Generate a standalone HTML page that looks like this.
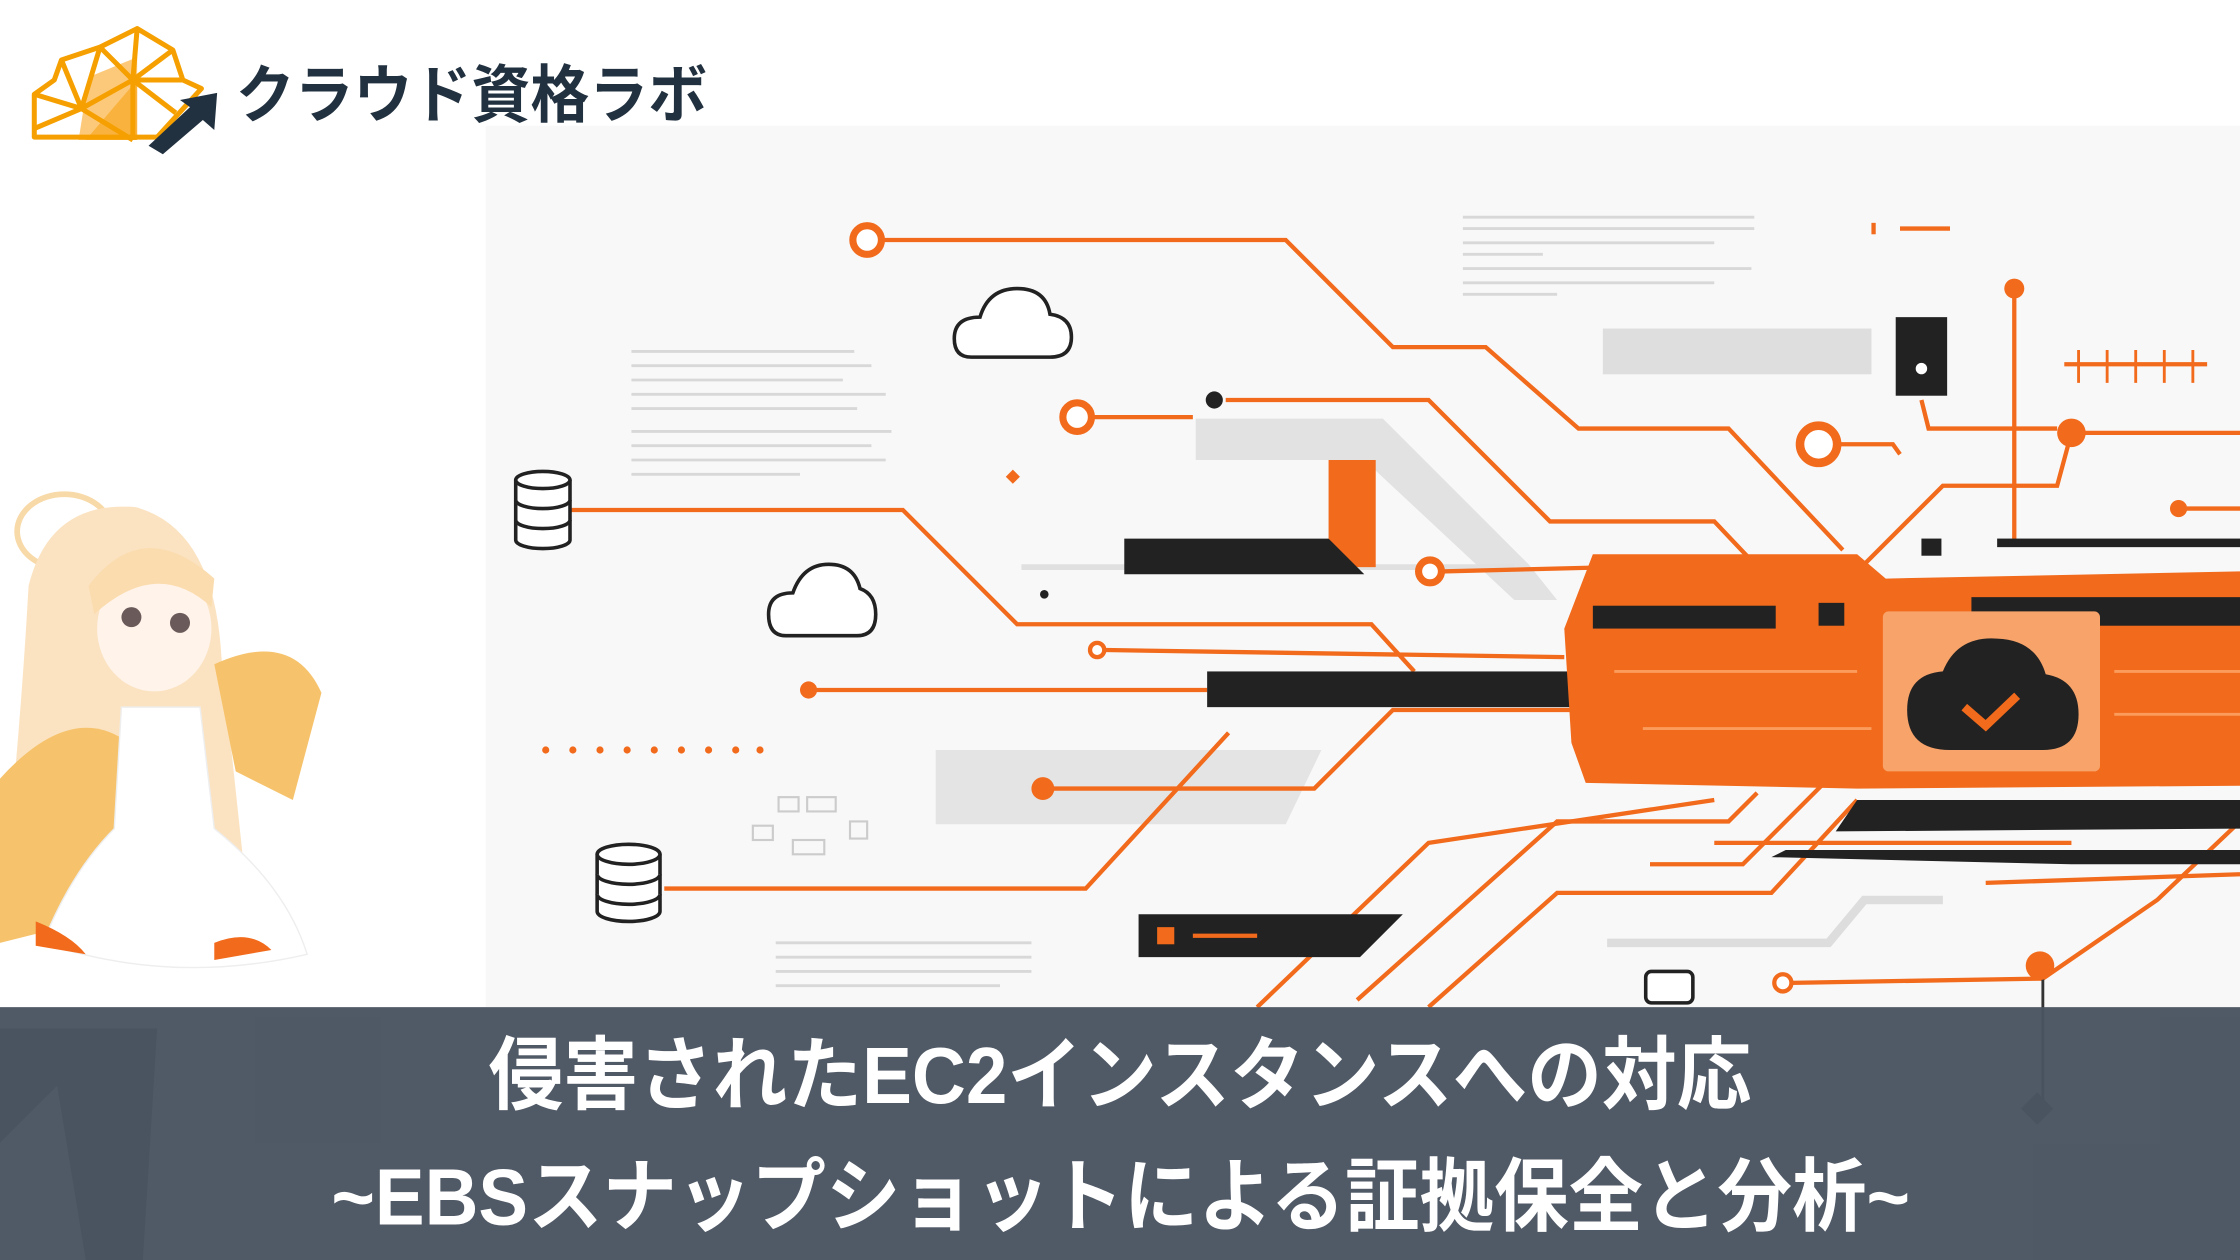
<!DOCTYPE html>
<html><head><meta charset="utf-8"><style>
html,body{margin:0;padding:0;background:#fff;}
svg{display:block;}
</style></head><body>
<svg width="2240" height="1260" viewBox="0 0 1568 882" xmlns="http://www.w3.org/2000/svg">
<rect width="1568" height="882" fill="#fff"/>
<rect x="340" y="88" width="1228" height="620" fill="#f8f8f8"/>
<g stroke="#d8d8d8" stroke-width="2">
<line x1="442" y1="246" x2="598" y2="246"/><line x1="442" y1="256" x2="610" y2="256"/><line x1="442" y1="266" x2="590" y2="266"/><line x1="442" y1="276" x2="620" y2="276"/><line x1="442" y1="286" x2="600" y2="286"/><line x1="442" y1="302" x2="624" y2="302"/><line x1="442" y1="312" x2="610" y2="312"/><line x1="442" y1="322" x2="620" y2="322"/><line x1="442" y1="332" x2="560" y2="332"/>
<line x1="1024" y1="152" x2="1228" y2="152"/><line x1="1024" y1="160" x2="1228" y2="160"/><line x1="1024" y1="170" x2="1200" y2="170"/><line x1="1024" y1="178" x2="1080" y2="178"/><line x1="1024" y1="188" x2="1226" y2="188"/><line x1="1024" y1="198" x2="1200" y2="198"/><line x1="1024" y1="206" x2="1090" y2="206"/>
<line x1="543" y1="660" x2="722" y2="660"/><line x1="543" y1="670" x2="722" y2="670"/><line x1="543" y1="680" x2="722" y2="680"/><line x1="543" y1="690" x2="700" y2="690"/>
</g>
<polygon points="837,293 968,293 1070,395 1090,420 1060,420 955,322 837,322" fill="#e2e2e2"/>
<rect x="1122" y="230" width="188" height="32" fill="#dedede"/>
<polygon points="655,525 925,525 900,577 655,577" fill="#e4e4e4"/>
<line x1="715" y1="397" x2="1060" y2="397" stroke="#e0e0e0" stroke-width="4"/>
<polyline points="1125,660 1280,660 1305,630 1360,630" fill="none" stroke="#ddd" stroke-width="6"/>
<g fill="none" stroke="#f26a1b" stroke-width="3">
<polyline points="615,168 900,168 975,243 1040,243 1105,300 1210,300 1290,385"/>
<line x1="762" y1="292" x2="835" y2="292"/>
<polyline points="858,280 1000,280 1085,365 1200,365 1290,460"/>
<polyline points="400,357 632,357 712,437 960,437 990,470"/>
<line x1="1009" y1="400" x2="1130" y2="397"/>
<line x1="774" y1="455" x2="1095" y2="460"/>
<line x1="570" y1="483" x2="845" y2="483"/>
<polyline points="736,552 920,552 975,497 1110,497"/>
<polyline points="465,622 760,622 860,513"/>
<polyline points="880,705 1000,590 1200,560"/>
<polyline points="950,700 1090,575 1210,575 1230,555"/>
<polyline points="1155,605 1220,605 1290,535"/>
<polyline points="1000,705 1090,625 1240,625 1300,560"/>
<polyline points="1254,688 1430,685 1510,630 1568,575"/>
<line x1="1410" y1="202" x2="1410" y2="380"/>
<polyline points="1285,311 1325,311 1330,318"/>
<polyline points="1300,400 1360,340 1440,340 1450,303 1568,303"/>
<line x1="1525" y1="356" x2="1568" y2="356"/>
<polyline points="1345,280 1350,300 1440,300"/>
<line x1="1445" y1="255" x2="1545" y2="255"/>
<line x1="1330" y1="160" x2="1365" y2="160"/>
<line x1="1390" y1="618" x2="1568" y2="612"/>
<line x1="1200" y1="590" x2="1450" y2="590"/>
<line x1="1430" y1="685" x2="1430" y2="775" stroke="#333" stroke-width="2"/>
</g>
<g stroke="#f26a1b" stroke-width="2">
<line x1="1455" y1="245" x2="1455" y2="268"/><line x1="1475" y1="245" x2="1475" y2="268"/><line x1="1495" y1="245" x2="1495" y2="268"/><line x1="1515" y1="245" x2="1515" y2="268"/><line x1="1535" y1="245" x2="1535" y2="268"/>
</g>
<g fill="#f26a1b"><circle cx="382" cy="525" r="2.5"/><circle cx="401" cy="525" r="2.5"/><circle cx="420" cy="525" r="2.5"/><circle cx="439" cy="525" r="2.5"/><circle cx="458" cy="525" r="2.5"/><circle cx="477" cy="525" r="2.5"/><circle cx="496" cy="525" r="2.5"/><circle cx="515" cy="525" r="2.5"/><circle cx="532" cy="525" r="2.5"/></g>
<g fill="#fff" stroke="#f26a1b" stroke-width="5">
<circle cx="607" cy="168" r="10"/><circle cx="754" cy="292" r="10"/><circle cx="1001" cy="400" r="8"/><circle cx="768" cy="455" r="5" stroke-width="3"/><circle cx="1273" cy="311" r="13" stroke-width="6"/><circle cx="1248" cy="688" r="6" stroke-width="3"/>
</g>
<g fill="#f26a1b"><circle cx="566" cy="483" r="6"/><circle cx="730" cy="552" r="8"/><circle cx="1410" cy="202" r="7"/><circle cx="1450" cy="303" r="10"/><circle cx="1525" cy="356" r="6"/><circle cx="1428" cy="676" r="10"/><rect x="706" y="330" width="7" height="7" transform="rotate(45 709 333)"/><rect x="1310" y="156" width="3" height="8"/></g>
<circle cx="850" cy="280" r="6" fill="#222"/>
<circle cx="731" cy="416" r="3" fill="#222"/>
<rect x="1418" y="768" width="16" height="16" fill="#3a3a3a" transform="rotate(45 1426 776)"/>
<rect x="930" y="322" width="33" height="75" fill="#f26a1b"/>
<polygon points="787,377 930,377 955,402 787,402" fill="#222"/>
<rect x="845" y="470" width="270" height="25" fill="#222"/>
<polygon points="797,640 982,640 952,670 797,670" fill="#222"/>
<rect x="810" y="649" width="12" height="12" fill="#f26a1b"/>
<line x1="835" y1="655" x2="880" y2="655" stroke="#f26a1b" stroke-width="3"/>
<rect x="1327" y="222" width="36" height="55" fill="#222"/>
<circle cx="1345" cy="258" r="4" fill="#fff"/>
<rect x="1345" y="377" width="14" height="12" fill="#222"/>
<rect x="1398" y="377" width="170" height="6" fill="#222"/>
<polygon points="1115,388 1300,388 1320,405 1568,400 1568,550 1300,552 1110,548 1100,520 1095,440" fill="#f26a1b"/>
<g stroke="#ffb27a" stroke-width="2" opacity="0.7"><line x1="1130" y1="470" x2="1300" y2="470"/><line x1="1150" y1="510" x2="1310" y2="510"/><line x1="1480" y1="470" x2="1568" y2="470"/><line x1="1480" y1="500" x2="1568" y2="500"/></g>
<rect x="1115" y="424" width="128" height="16" fill="#222"/>
<rect x="1273" y="422" width="18" height="16" fill="#222"/>
<rect x="1380" y="418" width="188" height="20" fill="#222"/>
<polygon points="1300,560 1568,560 1568,580 1285,582" fill="#222"/>
<polygon points="1250,595 1568,595 1568,605 1450,605 1240,600" fill="#222"/>
<rect x="1318" y="428" width="152" height="112" fill="#f7a36a" rx="4"/>
<path d="M1365,525 Q1335,525 1335,497 Q1335,472 1360,470 Q1370,445 1398,447 Q1425,448 1432,472 Q1455,476 1455,500 Q1455,525 1430,525 Z" fill="#222"/>
<polyline points="1375,495 1390,508 1412,487" fill="none" stroke="#f26a1b" stroke-width="6"/>
<g fill="#fff" stroke="#222" stroke-width="2.5">
<path d="M680,250 Q668,250 668,237 Q668,222 686,222 Q692,202 712,202 Q732,202 735,220 Q750,222 750,236 Q750,250 735,250 Z"/>
<path d="M550,445 Q538,445 538,430 Q538,415 555,415 Q562,395 580,395 Q598,395 602,412 Q613,416 613,430 Q613,445 600,445 Z"/>
</g>
<g fill="#fff" stroke="#222" stroke-width="2.5">
<path d="M361,336 v42 a19,6 0 0 0 38,0 v-42"/><ellipse cx="380" cy="336" rx="19" ry="6"/><path d="M361,350 a19,6 0 0 0 38,0 M361,364 a19,6 0 0 0 38,0"/>
<path d="M418,598 v40 a22,7 0 0 0 44,0 v-40"/><ellipse cx="440" cy="598" rx="22" ry="7"/><path d="M418,612 a22,7 0 0 0 44,0 M418,626 a22,7 0 0 0 44,0"/>
</g>
<g fill="none" stroke="#ccc" stroke-width="1.5"><rect x="545" y="558" width="14" height="10"/><rect x="565" y="558" width="20" height="10"/><rect x="527" y="578" width="14" height="10"/><rect x="555" y="588" width="22" height="10"/><rect x="595" y="575" width="12" height="12"/></g>
<rect x="1152" y="680" width="33" height="22" rx="4" fill="#fff" stroke="#222" stroke-width="2.5"/>
<!-- logo -->
<polygon points="62,54 96,40 96,98 55,98" fill="#fcc97a"/>
<polygon points="96,56 96,98 60,98" fill="#f9b23d"/>
<g stroke="#f5a000" stroke-width="3.5" fill="none" stroke-linejoin="round">
<polygon points="24,66 38,56 43,42 70,33 96,20 121,35 128,56 141,62 110,96 24,96"/>
<line x1="43" y1="42" x2="57" y2="76"/><line x1="70" y1="33" x2="57" y2="76"/><line x1="70" y1="33" x2="93" y2="56"/><line x1="96" y1="20" x2="93" y2="56"/><line x1="121" y1="35" x2="93" y2="56"/><line x1="128" y1="56" x2="93" y2="56"/><line x1="24" y1="66" x2="57" y2="76"/><line x1="57" y1="76" x2="93" y2="56"/><line x1="93" y1="56" x2="123" y2="79"/><line x1="93" y1="56" x2="93" y2="98"/><line x1="57" y1="76" x2="93" y2="98"/><line x1="24" y1="90" x2="57" y2="76"/>
</g>
<polygon points="104,102 133,75 126,70 152,65 150,91 142,84 114,108" fill="#223140"/>
<text x="165" y="82" font-family="Liberation Sans, Noto Sans CJK JP, sans-serif" font-size="44" font-weight="700" fill="#223140" textLength="330" lengthAdjust="spacingAndGlyphs">クラウド資格ラボ</text>
<!-- character -->
<ellipse cx="45" cy="372" rx="33" ry="26" fill="none" stroke="#f8d9a8" stroke-width="4"/>
<path d="M20,410 Q35,350 95,355 Q150,370 155,460 L170,600 L120,560 L40,560 L5,600 Q15,500 20,410Z" fill="#fbe3c2"/>
<ellipse cx="108" cy="440" rx="40" ry="44" fill="#fff3ea"/>
<path d="M62,410 Q100,360 150,405 L148,425 Q110,390 66,430Z" fill="#fbdcae"/>
<circle cx="92" cy="432" r="7" fill="#6b5a5a"/><circle cx="126" cy="436" r="7" fill="#6b5a5a"/>
<path d="M0,545 Q50,490 90,520 L80,640 L0,660Z" fill="#f6c36c"/>
<path d="M150,465 Q205,440 225,485 L205,560 L165,540Z" fill="#f6c36c"/>
<path d="M85,495 L140,495 L150,580 Q200,620 215,668 Q120,690 30,660 Q50,610 80,580Z" fill="#fff" stroke="#eee"/>
<path d="M25,645 Q50,655 60,668 L25,662Z" fill="#f26a1b"/><path d="M150,660 Q175,650 190,665 L150,672Z" fill="#f26a1b"/>
<path d="M0,720 L110,720 L100,882 L60,882 L40,760 L0,800Z" fill="#3b434d"/>
<!-- bottom band -->
<rect x="0" y="705" width="1568" height="177" fill="#4a5461" fill-opacity="0.97"/>
<text x="342" y="772" font-family="Liberation Sans, Noto Sans CJK JP, sans-serif" font-size="56" font-weight="700" fill="#fff" textLength="884" lengthAdjust="spacingAndGlyphs">侵害されたEC2インスタンスへの対応</text>
<text x="232" y="857" font-family="Liberation Sans, Noto Sans CJK JP, sans-serif" font-size="56" font-weight="700" fill="#fff" textLength="1105" lengthAdjust="spacingAndGlyphs">~EBSスナップショットによる証拠保全と分析~</text>
</svg>
</body></html>
